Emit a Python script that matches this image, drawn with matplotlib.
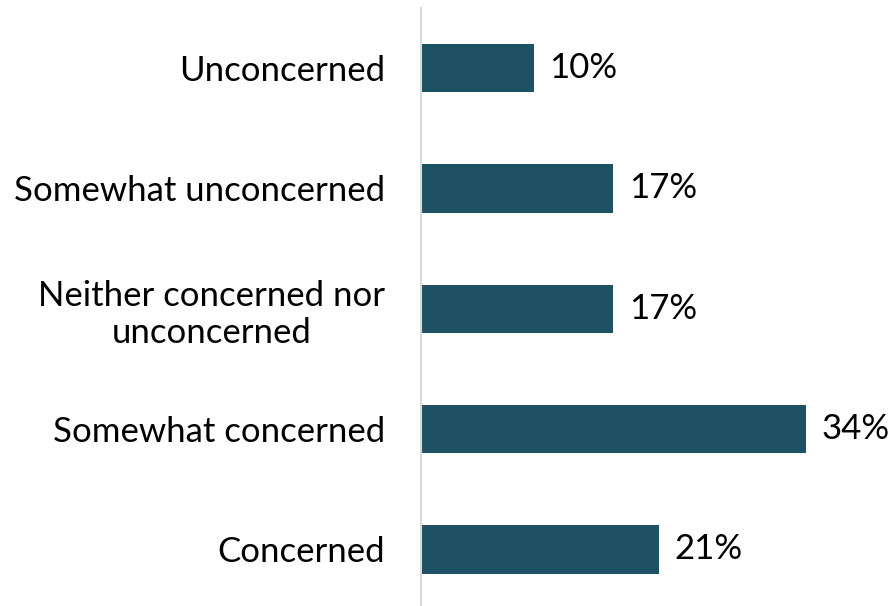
import matplotlib.pyplot as plt

plt.rcParams["font.family"] = ["Lato", "DejaVu Sans"]

categories = ["Unconcerned", "Somewhat unconcerned", "Neither concerned nor\nunconcerned",
              "Somewhat concerned", "Concerned"]
values = [10, 17, 17, 34, 21]
value_labels = ["10%", "17%", "17%", "34%", "21%"]

fig = plt.figure(figsize=(8.92, 6.06), dpi=100)
ax = fig.add_axes([421 / 892, 0.0, 452.8 / 892, 1 - 8 / 606])

ypos = list(range(len(categories)))
bars = ax.barh(ypos, values, height=0.4, color="#1D5163")

for b, lab in zip(bars, value_labels):
    ax.annotate(lab, (b.get_width(), b.get_y() + b.get_height() / 2),
                xytext=(11, 0), textcoords="offset points",
                va="center", ha="left", fontsize=25, color="#000000")

ax.set_xlim(0, 40)
ax.set_ylim(4.47, -0.5)
ax.set_yticks(ypos)
ax.set_yticklabels(categories, fontsize=25, multialignment="center", linespacing=1.2)
ax.tick_params(axis="y", length=0, pad=26)
ax.set_xticks([])

for side in ["top", "right", "bottom"]:
    ax.spines[side].set_visible(False)
ax.spines["left"].set_color("#D9D9D9")
ax.spines["left"].set_linewidth(1.5)

fig.savefig("out.png", dpi=100)
